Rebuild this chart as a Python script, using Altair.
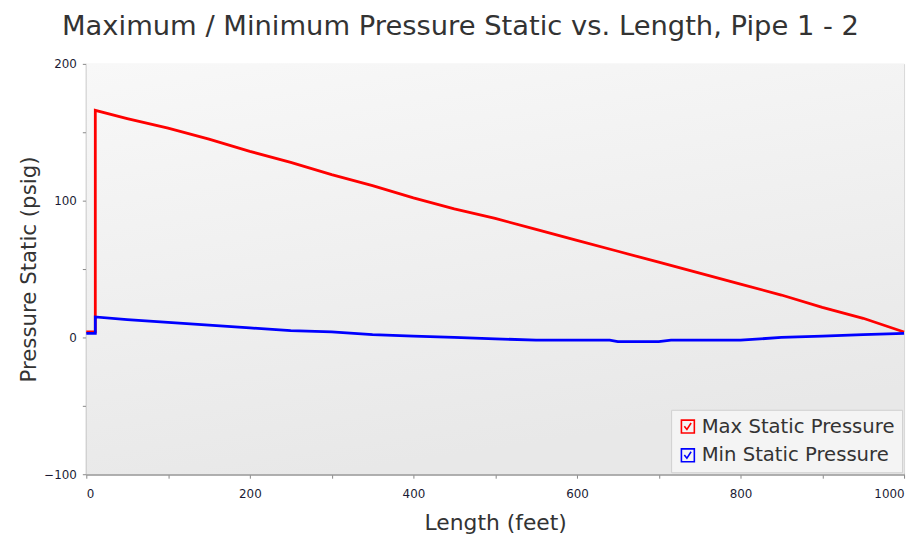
import altair as alt
import pandas as pd

# Data
max_len = [0, 11, 11, 50, 100, 150, 200, 250, 300, 350, 400, 450, 500, 550, 600, 650, 700, 750, 800, 850, 900, 950, 1000]
max_p = [4, 4, 166, 160, 153, 145, 136, 128, 119, 111, 102, 94, 87, 79, 71, 63, 55, 47, 39, 31, 22, 14, 4]

min_len = [0, 11, 11, 50, 100, 150, 200, 250, 300, 350, 400, 450, 500, 550, 600, 640, 650, 700, 715, 800, 850, 900, 950, 1000]
min_p = [3, 3, 15, 13, 11, 9, 7, 5, 4, 2, 1, 0, -1, -2, -2, -2, -3, -3, -2, -2, 0, 1, 2, 3]

series_names = ["Max Static Pressure", "Min Static Pressure"]
series_colors = ["#ff0000", "#0000ff"]

rows = []
for i, (x, y) in enumerate(zip(max_len, max_p)):
    rows.append({"Length": x, "Pressure": y, "Series": series_names[0], "order": i})
for i, (x, y) in enumerate(zip(min_len, min_p)):
    rows.append({"Length": x, "Pressure": y, "Series": series_names[1], "order": i})
df = pd.DataFrame(rows)

x_ticks = list(range(0, 1001, 100))
y_ticks = list(range(-100, 201, 50))

check_path = "M-1,-1H1V1H-1Z M-0.55,-0.05L-0.15,0.45L0.5,-0.55"

bg = alt.Chart(pd.DataFrame({"a": [0]})).mark_rect(
    color=alt.Gradient(
        gradient="linear",
        stops=[alt.GradientStop(color="#f8f8f8", offset=0),
               alt.GradientStop(color="#e8e8e8", offset=1)],
        x1=0, y1=0, x2=0.3, y2=1,
    )
).encode(
    x=alt.value(0), x2=alt.value("width"), y=alt.value(0), y2=alt.value("height")
)

lines = alt.Chart(df).mark_line(strokeWidth=2.8, interpolate="linear").encode(
    x=alt.X("Length:Q", scale=alt.Scale(domain=[0, 1000], nice=False),
            axis=alt.Axis(title="Length (feet)", values=x_ticks, format="d",
                          labelExpr="datum.value % 200 == 0 ? datum.label : ''",
                          gridColor=alt.condition("datum.value % 200 == 0", alt.value("#d6d6d6"), alt.value("transparent")),
                          tickColor="#888", tickSize=4, domainColor="#999", domainWidth=2,
                          labelFontSize=12, labelColor="#1a1a33", labelPadding=10,
                          titleFontSize=22, titleColor="#333", titleFontWeight="normal",
                          titlePadding=14, labelFlush=True)),
    y=alt.Y("Pressure:Q", scale=alt.Scale(domain=[-100, 200], nice=False),
            axis=alt.Axis(title="Pressure Static (psig)", values=y_ticks, format="d",
                          labelExpr="datum.value % 100 == 0 ? datum.label : ''",
                          gridColor=alt.condition("datum.value % 100 == 0", alt.value("#d6d6d6"), alt.value("transparent")),
                          tickColor="#888", tickSize=4, domainColor="#999", domainWidth=2,
                          labelFontSize=12, labelColor="#1a1a33", labelPadding=6,
                          titleFontSize=21.5, titleColor="#333", titleFontWeight="normal",
                          titlePadding=3)),
    color=alt.Color("Series:N",
                    scale=alt.Scale(domain=series_names, range=series_colors),
                    legend=alt.Legend(title=None, orient="bottom-right", symbolType=check_path,
                                      symbolSize=170, symbolStrokeWidth=1.6, symbolFillColor="transparent",
                                      labelFontSize=19.8, labelColor="#333", labelFont="DejaVu Sans",
                                      fillColor="#f4f4f4", strokeColor="#cfcfcf", padding=7,
                                      rowPadding=8, offset=2, labelLimit=300)),
    order="order:Q",
)

chart = alt.layer(bg, lines).properties(
    width=825, height=414,
    title=alt.TitleParams("Maximum / Minimum Pressure Static vs. Length, Pipe 1 - 2",
                          fontSize=27.6, font="DejaVu Sans", fontWeight="normal", color="#333",
                          anchor="middle", dx=-35, offset=18),
    autosize=alt.AutoSizeParams(type="none"),
    padding={"left": 79, "top": 54, "right": 7, "bottom": 65},
).configure_view(stroke=None).configure_axis(
    labelFont="DejaVu Sans", titleFont="DejaVu Sans", gridWidth=1
)

chart.save("out.html", embed_options={"renderer": "svg", "actions": False})
